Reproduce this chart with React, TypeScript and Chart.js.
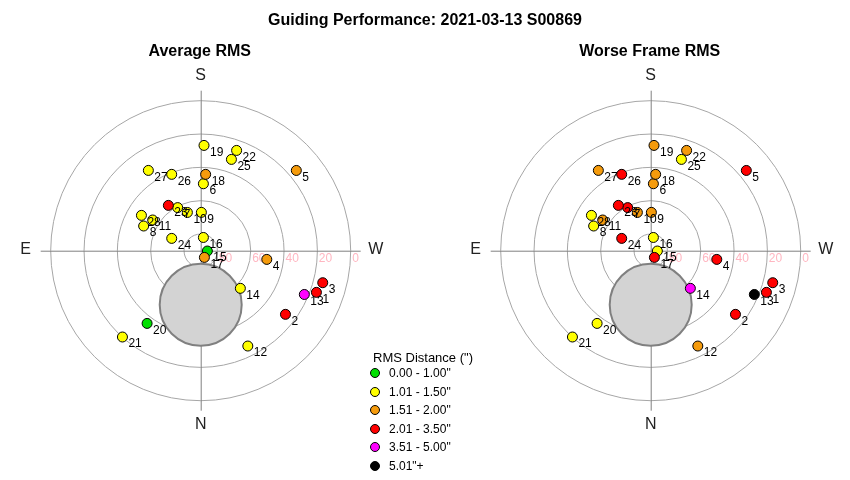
import React, { useEffect, useRef } from "react";
import { Chart, registerables } from "chart.js";

Chart.register(...registerables);

// ---------------- data ----------------
const MAIN_TITLE = "Guiding Performance: 2021-03-13 S00869";
const PLOT_TITLES = ["Average RMS", "Worse Frame RMS"];

const FRAME_IDS = [1, 2, 3, 4, 5, 6, 7, 8, 9, 10, 11, 12, 13, 14, 15, 16, 17, 18, 19, 20, 21, 22, 23, 24, 25, 26, 27, 28];
// azimuth (deg, N=0, E=90) and altitude (deg) of each frame
const AZIMUTH = [289.8, 306.9, 284.7, 277.5, 230.0, 182.3, 151.9, 113.4, 181.0, 160.8, 122.6, 333.7, 292.9, 313.5, 272.6, 191.5, 331.1, 183.7, 181.8, 36.4, 42.2, 199.7, 144.5, 113.0, 198.6, 159.2, 146.9, 120.8];
const ALTITUDE = [16.2, 26.4, 14.3, 50.0, 15.1, 49.8, 60.7, 52.7, 67.0, 65.7, 55.8, 26.2, 22.5, 57.2, 86.0, 81.9, 85.4, 44.1, 26.8, 35.8, 20.1, 26.1, 56.6, 71.1, 32.2, 41.0, 32.5, 48.6];
// RMS class index (into CLASS_LABELS) for each frame
const AVG_CLASS = [3, 3, 3, 2, 2, 1, 1, 1, 1, 1, 1, 1, 4, 1, 0, 1, 2, 2, 1, 0, 1, 1, 3, 1, 1, 1, 1, 1];
const WORST_CLASS = [3, 3, 3, 3, 3, 2, 3, 1, 2, 2, 2, 2, 5, 4, 1, 1, 3, 2, 2, 1, 1, 2, 3, 3, 1, 3, 2, 1];

const LEGEND_TITLE = 'RMS Distance (")';
const CLASS_LABELS = ['0.00 - 1.00"', '1.01 - 1.50"', '1.51 - 2.00"', '2.01 - 3.50"', '3.51 - 5.00"', '5.01"+'];
const CLASS_COLORS = ["#00e000", "#ffff00", "#f59b0c", "#ff0000", "#ff00ff", "#000000"];

const RING_ALTITUDES = [80, 60, 40, 20, 0];
const COMPASS_LABELS = ["S", "W", "N", "E"];
const COMPASS_AZIMUTHS = [180, 270, 0, 90];

// obstructed zone (grey disc)
const MASK_AZIMUTH = 0;
const MASK_ALTITUDE = 57.6;
const MASK_RADIUS_DEG = 24.6;

// ---------------- helpers ----------------
const FONT = '"Liberation Sans", Arial, Helvetica, sans-serif';
const SPAN = 100; // zenith-distance half range of scales
const PX_PER_DEG = 150 / 90;
const AXIS_EXTENT = 96;

function toXY(az: number, alt: number) {
  const zd = 90 - alt;
  const t = ((az - 180) * Math.PI) / 180;
  return { x: zd * Math.sin(t), y: zd * Math.cos(t) };
}

const polarDecor = {
  id: "polarDecor",
  beforeDatasetsDraw(chart: any, _args: any, opts: any) {
    const { ctx } = chart;
    const xs = chart.scales.x;
    const ys = chart.scales.y;
    const cx = xs.getPixelForValue(0);
    const cy = ys.getPixelForValue(0);
    const k = xs.getPixelForValue(1) - cx;
    ctx.save();
    // rings
    ctx.strokeStyle = "#a6a6a6";
    ctx.lineWidth = 1;
    RING_ALTITUDES.forEach((a) => {
      ctx.beginPath();
      ctx.arc(cx, cy, (90 - a) * k, 0, Math.PI * 2);
      ctx.stroke();
    });
    // axes
    ctx.strokeStyle = "#808080";
    ctx.beginPath();
    ctx.moveTo(cx - AXIS_EXTENT * k, cy + 0.5);
    ctx.lineTo(cx + AXIS_EXTENT * k, cy + 0.5);
    ctx.moveTo(cx + 0.5, cy - AXIS_EXTENT * k);
    ctx.lineTo(cx + 0.5, cy + AXIS_EXTENT * k);
    ctx.stroke();
    // ring labels
    ctx.fillStyle = "#ffb6c1";
    ctx.font = `12px ${FONT}`;
    ctx.textAlign = "left";
    ctx.textBaseline = "middle";
    RING_ALTITUDES.forEach((a) => {
      ctx.fillText(String(a), cx + (90 - a) * k + 1.5, cy + 7.5);
    });
    // mask disc
    const m = toXY(MASK_AZIMUTH, MASK_ALTITUDE);
    ctx.beginPath();
    ctx.arc(xs.getPixelForValue(m.x), ys.getPixelForValue(m.y), MASK_RADIUS_DEG * k, 0, Math.PI * 2);
    ctx.fillStyle = "#d3d3d3";
    ctx.fill();
    ctx.strokeStyle = "#808080";
    ctx.lineWidth = 2;
    ctx.stroke();
    // compass labels
    ctx.fillStyle = "#222";
    ctx.font = `16px ${FONT}`;
    ctx.textAlign = "center";
    ctx.textBaseline = "middle";
    COMPASS_LABELS.forEach((lab, i) => {
      const p = toXY(COMPASS_AZIMUTHS[i], -15);
      const horiz = Math.abs(p.x) > Math.abs(p.y);
      const px = xs.getPixelForValue(p.x);
      const py = ys.getPixelForValue(p.y) + (horiz ? -1.5 : p.y > 0 ? -0.5 : -1.5);
      ctx.fillText(lab, px, py);
    });
    // plot title
    ctx.fillStyle = "#000";
    ctx.font = `bold 16px ${FONT}`;
    ctx.fillText(opts.title, cx - 1, 52);
    ctx.restore();
  },
  afterDatasetsDraw(chart: any) {
    const { ctx } = chart;
    const meta = chart.getDatasetMeta(0);
    ctx.save();
    ctx.fillStyle = "#000";
    ctx.font = `12px ${FONT}`;
    ctx.textAlign = "left";
    ctx.textBaseline = "middle";
    meta.data.forEach((pt: any, i: number) => {
      ctx.fillText(String(FRAME_IDS[i]), pt.x + 6, pt.y + 7);
    });
    ctx.restore();
  },
};

function PolarPlot(props: { classes: number[]; title: string; left: number; centerX: number }) {
  const ref = useRef<HTMLCanvasElement>(null);
  useEffect(() => {
    const W = 425;
    const H = 480;
    const cy = 250.7;
    const half = SPAN * PX_PER_DEG;
    const data = FRAME_IDS.map((_, i) => toXY(AZIMUTH[i], ALTITUDE[i]));
    const chart = new Chart(ref.current as HTMLCanvasElement, {
      type: "scatter",
      data: {
        datasets: [
          {
            data,
            pointRadius: 5,
            pointHoverRadius: 5,
            pointBorderWidth: 1,
            pointBorderColor: "#000",
            pointBackgroundColor: props.classes.map((c) => CLASS_COLORS[c]),
            showLine: false,
          } as any,
        ],
      },
      options: {
        responsive: false,
        maintainAspectRatio: false,
        animation: false,
        events: [],
        layout: {
          autoPadding: false,
          padding: {
            left: props.centerX - half,
            right: W - props.centerX - half,
            top: cy - half,
            bottom: H - cy - half,
          },
        },
        scales: {
          x: { type: "linear", min: -SPAN, max: SPAN, display: false },
          y: { type: "linear", min: -SPAN, max: SPAN, display: false },
        },
        plugins: {
          legend: { display: false },
          tooltip: { enabled: false },
          title: { display: false },
          polarDecor: { title: props.title },
        } as any,
      },
      plugins: [polarDecor as any],
    });
    return () => chart.destroy();
  }, []);
  return (
    <canvas
      ref={ref}
      width={425}
      height={480}
      style={{ position: "absolute", left: props.left, top: 0, width: 425, height: 480 }}
    />
  );
}

export default function App() {
  const rowY = [373, 391.5, 410, 428.5, 447, 465.5];
  return (
    <div
      style={{
        position: "fixed",
        left: 0,
        top: 0,
        width: 850,
        height: 480,
        background: "#fff",
        overflow: "hidden",
        fontFamily: FONT,
      }}
    >
      <PolarPlot classes={AVG_CLASS} title={PLOT_TITLES[0]} left={0} centerX={200.7} />
      <PolarPlot classes={WORST_CLASS} title={PLOT_TITLES[1]} left={425} centerX={225.7} />
      <div
        style={{
          position: "absolute",
          left: 0,
          top: 10,
          width: 850,
          lineHeight: "20px",
          textAlign: "center",
          fontWeight: "bold",
          fontSize: 16,
          color: "#000",
        }}
      >
        {MAIN_TITLE}
      </div>
      <div style={{ position: "absolute", left: 373, top: 350, lineHeight: "16px", fontSize: 13, color: "#000", whiteSpace: "nowrap" }}>
        {LEGEND_TITLE}
      </div>
      {CLASS_LABELS.map((lab, i) => (
        <div key={lab} style={{ position: "absolute", left: 0, top: rowY[i] - 8, height: 16, width: 850 }}>
          <span
            style={{
              position: "absolute",
              left: 370,
              top: 3,
              width: 8,
              height: 8,
              borderRadius: "50%",
              border: "1px solid #000",
              background: CLASS_COLORS[i],
            }}
          />
          <span
            style={{
              position: "absolute",
              left: 389,
              top: 0,
              lineHeight: "16px",
              fontSize: 12,
              color: "#000",
              whiteSpace: "nowrap",
            }}
          >
            {lab}
          </span>
        </div>
      ))}
    </div>
  );
}
